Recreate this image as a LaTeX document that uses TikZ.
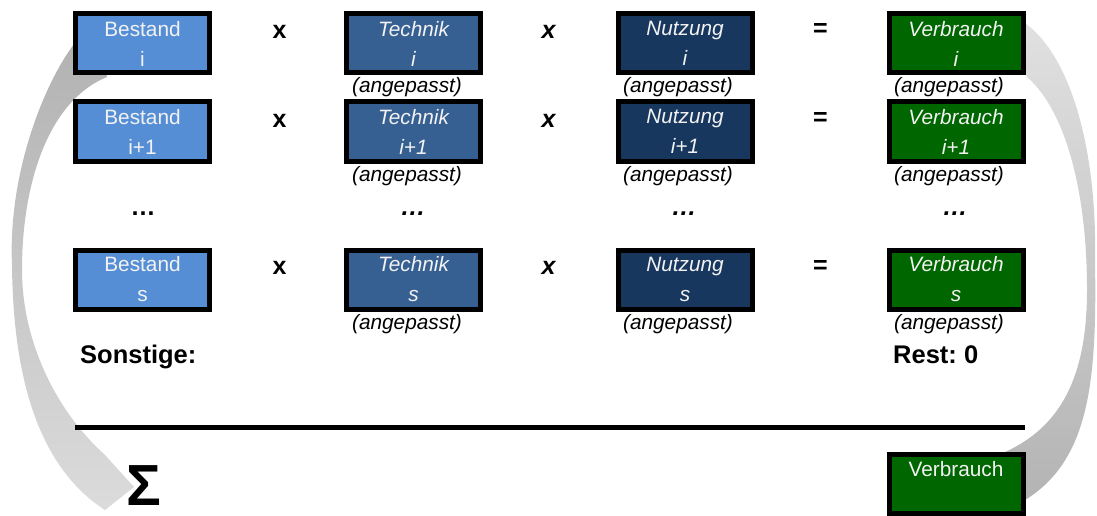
\documentclass[tikz,border=0pt]{standalone}
\usepackage{fontspec}
\setmainfont{Liberation Sans}
\frenchspacing
\definecolor{bestand}{RGB}{85,142,213}
\definecolor{technik}{RGB}{55,96,146}
\definecolor{nutzung}{RGB}{23,55,94}
\definecolor{verbrauch}{RGB}{0,102,0}
\definecolor{boxtext}{RGB}{242,242,242}
\begin{document}
\begin{tikzpicture}[x=1pt,y=-1pt,
  box/.style={draw=black, line width=5pt, minimum width=134pt, minimum height=59pt,
    inner sep=0pt, align=center, text=boxtext, font=\fontsize{20.8}{30}\selectfont},
  itbox/.style={box, font=\fontsize{20.8}{30}\selectfont\itshape},
  note/.style={inner sep=0pt, font=\fontsize{20.8}{30}\selectfont\itshape},
  op/.style={inner sep=0pt, font=\fontsize{25}{30}\selectfont\bfseries},
  itop/.style={inner sep=0pt, font=\fontsize{25}{30}\selectfont\bfseries\itshape},
  lbl/.style={inner sep=0pt, font=\fontsize{25.5}{30}\selectfont\bfseries}]
\useasboundingbox (0,0) rectangle (1097,516);

% grey curved arrows (behind the boxes)
\shade[top color=black!30, middle color=black!9, bottom color=black!14]
  (100,44) -- (74,44) .. controls (40,90) and (8,180) .. (12,265)
  .. controls (13,370) and (35,465) .. (105,510) -- (134,487) -- (105,455)
  .. controls (55,410) and (22,340) .. (22,270)
  .. controls (22,180) and (50,100) .. (107,77) -- cycle;
\shade[top color=black!12, middle color=black!8, bottom color=black!30]
  (1000,23) -- (1025,23) .. controls (1075,60) and (1097,160) .. (1095,260)
  .. controls (1097,380) and (1090,460) .. (1025,500) -- (1000,512) -- (960,480)
  -- (1000,452) -- (1005,452) .. controls (1065,425) and (1087,370) .. (1087,290)
  .. controls (1087,190) and (1065,110) .. (1027,77) -- cycle;

% row i
\node[box, fill=bestand]   (b1) at (142.5,43.5) {Bestand\\i};
\node[itbox, fill=technik] (t1) at (413.5,43.5) {Technik\\i};
\node[itbox, fill=nutzung] (n1) at (685,43.5) {Nutzung\\i};
\node[itbox, fill=verbrauch] (v1) at (956,43.5) {Verbrauch\\i};
\node[op]   (x1a) at (279.5,31.5) {x};
\node[itop] (x1b) at (548.5,31.5) {x};
\node[op]   (e1)  at (820.5,30) {=};
\node[note] (at1) at (407,87.5) {(angepasst)};
\node[note] (an1) at (678,87.5) {(angepasst)};
\node[note] (av1) at (949,87.5) {(angepasst)};

% row i+1
\node[box, fill=bestand]   (b2) at (142.5,131.5) {Bestand\\i+1};
\node[itbox, fill=technik] (t2) at (413.5,131.5) {Technik\\i+1};
\node[itbox, fill=nutzung] (n2) at (685,131.5) {Nutzung\\i+1};
\node[itbox, fill=verbrauch] (v2) at (956,131.5) {Verbrauch\\i+1};
\node[op]   (x2a) at (279.5,121) {x};
\node[itop] (x2b) at (548.5,121) {x};
\node[op]   (e2)  at (820.5,119.5) {=};
\node[note] (at2) at (407,176) {(angepasst)};
\node[note] (an2) at (678,176) {(angepasst)};
\node[note] (av2) at (949,176) {(angepasst)};

% dots
\node[op, anchor=base]   (d1) at (143,215) {…};
\node[itop, anchor=base] (d2) at (413,215) {…};
\node[itop, anchor=base] (d3) at (684,215) {…};
\node[itop, anchor=base] (d4) at (955,215) {…};

% row s
\node[box, fill=bestand]   (b3) at (142.5,279.5) {Bestand\\s};
\node[itbox, fill=technik] (t3) at (413.5,279.5) {Technik\\s};
\node[itbox, fill=nutzung] (n3) at (685,279.5) {Nutzung\\s};
\node[itbox, fill=verbrauch] (v3) at (956,279.5) {Verbrauch\\s};
\node[op]   (x3a) at (279.5,268) {x};
\node[itop] (x3b) at (548.5,268) {x};
\node[op]   (e3)  at (820.5,267) {=};
\node[note] (at3) at (407,324) {(angepasst)};
\node[note] (an3) at (678,324) {(angepasst)};
\node[note] (av3) at (949,324) {(angepasst)};

% others / rest
\node[lbl, anchor=base west] (sonst) at (80,363) {Sonstige:};
\node[lbl, anchor=base west] (rest) at (893,363) {Rest: 0};

% sum line
\coordinate (l1) at (75,427.5);
\coordinate (l2) at (1025,427.5);
\draw[line width=5pt] (l1) -- (l2);

% sum
\node[inner sep=0pt, font=\fontsize{58}{60}\selectfont\bfseries] (sigma) at (143.5,486) {Σ};
\node[box, fill=verbrauch] (vsum) at (956,484) {Verbrauch\\\mbox{}};
\end{tikzpicture}
\end{document}
